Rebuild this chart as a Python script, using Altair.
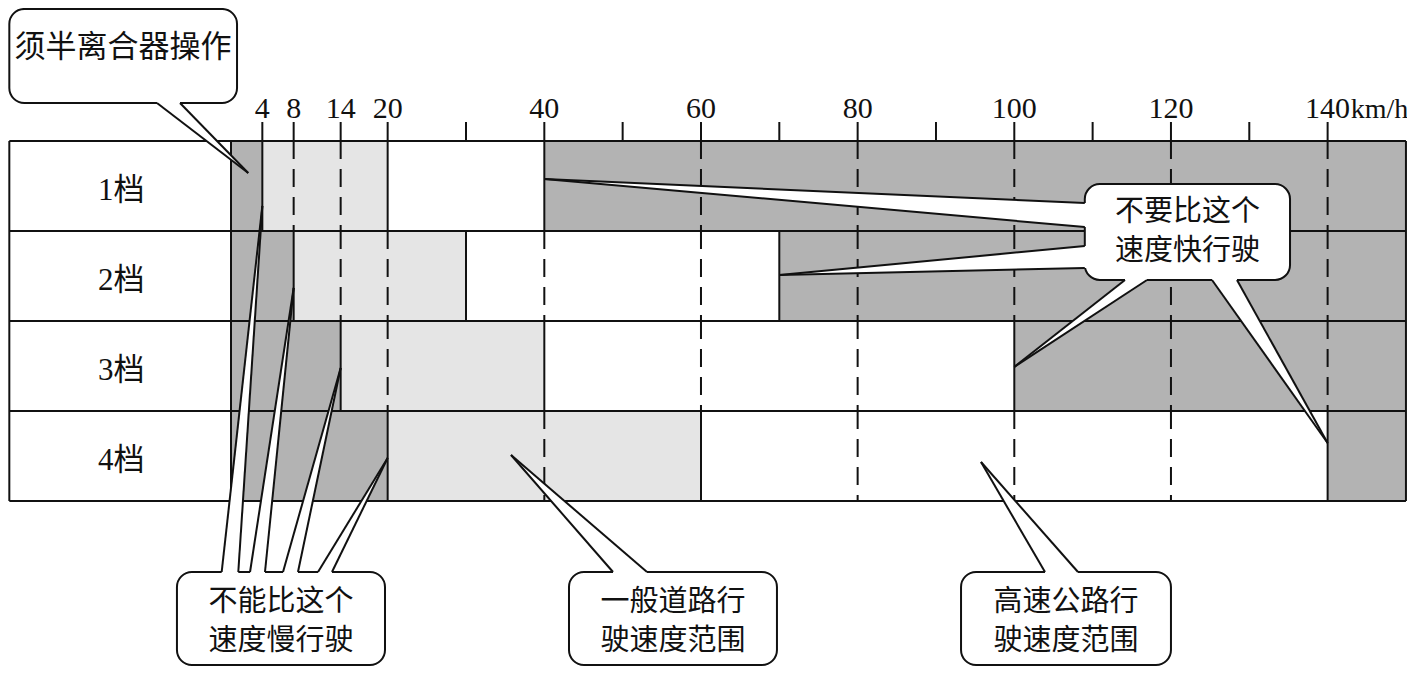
import altair as alt
import pandas as pd

# ---------------- data ----------------
gears = ["1档", "2档", "3档", "4档"]
low_limit = [4, 8, 14, 20]          # below this: half clutch needed
normal_end = [20, 30, 40, 60]       # end of general-road range
high_limit = [40, 70, 100, 140]     # above this: do not drive faster
speed_max = 150
tick_values = [4, 8, 14, 20, 30, 40, 50, 60, 70, 80, 90, 100, 110, 120, 130, 140]
label_values = [4, 8, 14, 20, 40, 60, 80, 100, 120, 140]
unit_label = "km/h"

# callouts (positions in km/h along x, gear-row units along y)
callout_lines = [["须半离合器操作"], ["不要比这个", "速度快行驶"], ["不能比这个", "速度慢行驶"],
                 ["一般道路行", "驶速度范围"], ["高速公路行", "驶速度范围"]]
callout_box_x = [(-28.3, 0.77), (109.0, 135.2), (-6.9, 19.66), (43.15, 69.7), (93.2, 120.0)]
callout_box_y = [(-1.467, -0.422), (0.478, 1.544), (4.789, 5.822), (4.789, 5.822), (4.789, 5.822)]
callout_text_x = [-13.8, 122.1, 6.38, 56.43, 106.6]
callout_text_y = [[-1.033], [0.789, 1.222], [5.122, 5.556], [5.122, 5.556], [5.122, 5.556]]
callout_font = [31, 29, 29, 29, 29]

pointer_tip = [(2.2, 0.356), (40, 0.422), (70, 1.489), (100, 2.51), (140, 3.356),
               (4, 0.722), (8, 1.633), (14, 2.522), (20, 3.522), (35.75, 3.489), (95.75, 3.567)]
pointer_base = [((-9.45, -0.422), (-6.51, -0.422)), ((109.0, 0.689), (109.0, 0.956)),
                ((109.0, 1.167), (109.0, 1.411)), ((114.13, 1.544), (116.94, 1.544)),
                ((125.24, 1.544), (128.43, 1.544)), ((-1.19, 4.789), (0.93, 4.789)),
                ((2.43, 4.789), (4.34, 4.789)), ((6.64, 4.789), (8.55, 4.789)),
                ((11.11, 4.789), (12.89, 4.789)), ((48.77, 4.789), (53.11, 4.789)),
                ((103.92, 4.789), (108.13, 4.789))]
pointer_side = ["bottom", "left", "left", "bottom", "bottom", "top", "top", "top", "top", "top", "top"]

# ---------------- scales ----------------
W, H = 1399, 659
X_DOM = [-28.469, 150.134]
Y_DOM = [-1.4778, 5.8444]
xs = alt.Scale(domain=X_DOM, nice=False, zero=False)
ys = alt.Scale(domain=Y_DOM, nice=False, zero=False, reverse=True)
px_x = (X_DOM[1] - X_DOM[0]) / W
px_y = (Y_DOM[1] - Y_DOM[0]) / H


def X(f="x"):
    return alt.X(f"{f}:Q", scale=xs, axis=None)


def Y(f="y"):
    return alt.Y(f"{f}:Q", scale=ys, axis=None)


LEFT = -28.3
BLACK = "#111111"

# ---------------- tables ----------------
zones = []
for i in range(len(gears)):
    edges = [0, low_limit[i], normal_end[i], high_limit[i], speed_max]
    names = ["slow", "general", "highway", "fast"]
    for j, n in enumerate(names):
        zones.append(dict(zone=n, x=edges[j], x2=edges[j + 1], y=i, y2=i + 1))
zones = pd.DataFrame(zones)

solid_v = []
dashed_v = []
for i in range(len(gears)):
    for v in [0, low_limit[i], normal_end[i], high_limit[i], speed_max]:
        solid_v.append(dict(x=v, y=i, y2=i + 1))
    for v in label_values:
        if v > low_limit[i] and v not in (normal_end[i], high_limit[i]):
            dashed_v.append(dict(x=v, y=i, y2=i + 1))
solid_v.append(dict(x=LEFT, y=0, y2=len(gears)))
solid_v = pd.DataFrame(solid_v)
dashed_v = pd.DataFrame(dashed_v)

hlines = pd.DataFrame([dict(y=i, x=LEFT, x2=speed_max) for i in range(len(gears) + 1)])
ticks = pd.DataFrame([dict(x=v, y=-0.211, y2=0) for v in tick_values])
tlabels = pd.DataFrame([dict(x=v, y=-0.2556, t=str(v)) for v in label_values])
unit_df = pd.DataFrame([dict(x=142.95, y=-0.2556, t=unit_label)])
row_labels = pd.DataFrame([dict(x=-14.0, y=i + 0.55, t=g) for i, g in enumerate(gears)])

boxes = pd.DataFrame([dict(x=bx[0], x2=bx[1], y=by[0], y2=by[1])
                      for bx, by in zip(callout_box_x, callout_box_y)])
texts = []
for k, lines in enumerate(callout_lines):
    for ln, yy in zip(lines, callout_text_y[k]):
        texts.append(dict(x=callout_text_x[k], y=yy, t=ln, fs=callout_font[k]))
texts = pd.DataFrame(texts)

fills = []
sides = []
for p, (tip, base, side) in enumerate(zip(pointer_tip, pointer_base, pointer_side)):
    (b1x, b1y), (b2x, b2y) = base
    dx, dy = 0.0, 0.0
    if side == "top":
        dy = 4 * px_y
    elif side == "bottom":
        dy = -4 * px_y
    elif side == "left":
        dx = 4 * px_x
    pts = [tip, (b1x, b1y), (b1x + dx, b1y + dy), (b2x + dx, b2y + dy), (b2x, b2y)]
    for k, (xx, yy) in enumerate(pts):
        fills.append(dict(pid=p, k=k, x=xx, y=yy))
    for s, (bx, by) in enumerate(base):
        sides.append(dict(lid=f"{p}-{s}", k=0, x=tip[0], y=tip[1]))
        sides.append(dict(lid=f"{p}-{s}", k=1, x=bx, y=by))
fills = pd.DataFrame(fills)
sides = pd.DataFrame(sides)

# ---------------- marks ----------------
rect = alt.Chart(zones).mark_rect(strokeWidth=0).encode(
    x=X(), x2="x2", y=Y(), y2="y2",
    fill=alt.Fill("zone:N", legend=None,
                  scale=alt.Scale(domain=["slow", "general", "highway", "fast"],
                                  range=["#b3b3b3", "#e5e5e5", "#ffffff", "#b3b3b3"])))

dash = alt.Chart(dashed_v).mark_rule(color=BLACK, strokeWidth=2, strokeDash=[18, 10]).encode(
    x=X(), y=Y(), y2="y2")
solid = alt.Chart(solid_v).mark_rule(color=BLACK, strokeWidth=2).encode(x=X(), y=Y(), y2="y2")
hrule = alt.Chart(hlines).mark_rule(color=BLACK, strokeWidth=2).encode(y=Y(), x=X(), x2="x2")
tick = alt.Chart(ticks).mark_rule(color=BLACK, strokeWidth=2).encode(x=X(), y=Y(), y2="y2")
tlab = alt.Chart(tlabels).mark_text(font="Liberation Serif", fontSize=30, color=BLACK,
                                    baseline="alphabetic", align="center").encode(
    x=X(), y=Y(), text="t:N")
unit = alt.Chart(unit_df).mark_text(font="Liberation Serif", fontSize=28, color=BLACK,
                                    baseline="alphabetic", align="left").encode(
    x=X(), y=Y(), text="t:N")
rlab = alt.Chart(row_labels).mark_text(font="Liberation Serif, Noto Sans CJK SC", fontSize=31,
                                       color=BLACK, baseline="middle", align="center").encode(
    x=X(), y=Y(), text="t:N")

box = alt.Chart(boxes).mark_rect(cornerRadius=15, fill="white", stroke=BLACK, strokeWidth=2).encode(
    x=X(), x2="x2", y=Y(), y2="y2")
wfill = alt.Chart(fills).mark_line(interpolate="linear-closed", fill="white", stroke="white",
                                   strokeWidth=0).encode(
    x=X(), y=Y(), detail="pid:N", order="k:Q")
wline = alt.Chart(sides).mark_line(color=BLACK, strokeWidth=2).encode(
    x=X(), y=Y(), detail="lid:N", order="k:Q")
ctext = alt.Chart(texts).mark_text(font="Noto Sans CJK SC", color=BLACK, baseline="middle",
                                   align="center").encode(
    x=X(), y=Y(), text="t:N", size=alt.Size("fs:Q", scale=None, legend=None))

chart = alt.layer(rect, dash, solid, hrule, tick, tlab, unit, rlab, box, wfill, wline, ctext).properties(
    width=W, height=H, padding=0, autosize=alt.AutoSizeParams(type="none")
).configure_view(strokeWidth=0)

chart.save("out.html", embed_options={"renderer": "svg", "actions": False})
